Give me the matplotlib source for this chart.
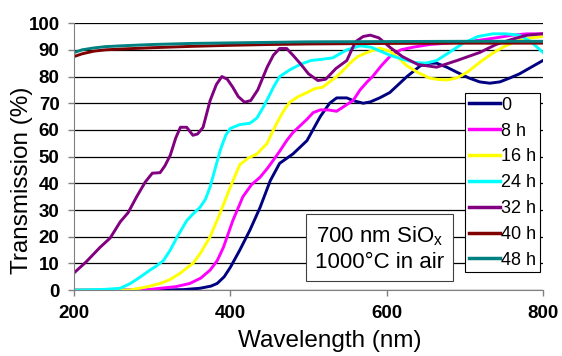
import matplotlib
matplotlib.use('Agg')
import matplotlib.pyplot as plt

plt.rcParams['font.family'] = ['Liberation Sans', 'DejaVu Sans']

# Transmission spectra of 700 nm SiOx, annealed at 1000C in air
wl_0h = [200, 300, 340, 361, 375, 383, 392, 400, 412, 425, 438, 451, 463, 480, 498,
         515, 527, 536, 549, 557, 570, 579, 591, 604, 615, 626, 643, 655, 664, 677,
         690, 705, 719, 732, 745, 758, 770, 785, 800]
tr_0h = [0, 0, 0.2, 0.7, 1.5, 2.5, 5, 8.6, 15, 22.5, 31, 41, 47.5, 51, 56,
         65, 70, 72, 72, 71, 70, 70.5, 72, 74, 77, 80, 84, 85, 85, 83.5,
         81.6, 79.5, 78, 77.5, 78, 79.5, 81, 83.5, 86]

wl_8h = [200, 290, 310, 330, 348, 362, 374, 383, 391, 403, 416, 427, 438, 447, 455,
         463, 472, 480, 489, 498, 506, 515, 525, 536, 549, 557, 566, 575, 582, 593,
         604, 618, 634, 655, 677, 700, 719, 740, 761, 780, 800]
tr_8h = [0, 0, 0.7, 1.3, 2.5, 4.5, 7.5, 11, 16, 26, 35, 39.5, 42.3, 45.5, 48.7,
         52, 56, 59, 61.5, 64, 66.5, 67.5, 67.5, 67, 69.5, 71, 75, 78, 80, 84,
         87.5, 90, 91, 92, 92.5, 93, 93.6, 94.5, 95.5, 96, 96]

wl_16h = [200, 270, 284, 297, 310, 323, 336, 345, 352, 362, 374, 387, 400, 412, 423,
          434, 447, 455, 463, 470, 476, 487, 498, 508, 518, 527, 536, 545, 553, 563,
          575, 591, 604, 615, 626, 640, 655, 666, 677, 690, 703, 720, 736, 752, 770,
          785, 800]
tr_16h = [0, 0, 0.7, 1.5, 2.5, 4, 6.4, 8.5, 10, 14, 20, 29, 38.7, 47, 49.5,
          51, 55, 60, 64.5, 68, 70.4, 72.5, 74, 75.5, 76, 78, 80, 82.5, 85, 87.5,
          89, 90.6, 89.5, 87, 84, 81.5, 79.4, 78.9, 78.7, 79.5, 81.6, 85.5, 88.8, 91.5, 93.6,
          94.5, 95]

wl_24h = [200, 240, 259, 272, 285, 297, 305, 314, 323, 332, 344, 352, 361, 368, 374,
          380, 387, 394, 400, 412, 425, 434, 442, 450, 455, 463, 476, 489, 503, 518,
          531, 540, 549, 566, 580, 592, 604, 620, 635, 650, 664, 680, 698, 717, 736,
          752, 770, 785, 800]
tr_24h = [0, 0.3, 0.7, 2.5, 5, 7.5, 9, 11, 15, 20, 26, 28.5, 31, 34, 38.7,
          45, 52.4, 58, 60.6, 62, 62.5, 64.5, 68.5, 73, 76, 80, 82.5, 84.5, 86, 86.5,
          87, 88.5, 90, 91.5, 91, 89.5, 88, 86.5, 85.3, 85, 86, 89, 92.5, 95, 96,
          96, 95.5, 93, 89]

wl_32h = [200, 215, 233, 246, 259, 269, 280, 291, 300, 310, 316, 323, 330, 336, 344,
          352, 358, 365, 374, 382, 389, 396, 403, 410, 418, 426, 435, 447, 455, 463,
          472, 480, 489, 500, 512, 522, 535, 549, 560, 570, 579, 590, 604, 620, 640,
          664, 690, 719, 740, 761, 780, 800]
tr_32h = [6.5, 10.5, 16, 19.5, 25.6, 29, 35, 40.5, 43.8, 44, 46.5, 50.5, 57, 61, 61,
          58, 58.5, 61, 71, 77, 80, 79, 76, 72.5, 70.4, 71, 75, 83.5, 88, 90.5,
          90.5, 88, 85, 81, 78.5, 79, 83, 86, 93, 95, 95.5, 94.5, 91, 87.5, 84.5,
          83.5, 86, 89, 92, 94, 95.5, 96]

wl_40h = [200, 210, 225, 240, 260, 300, 350, 400, 450, 500, 600, 700, 800]
tr_40h = [87.5, 88.5, 89.5, 90, 90.3, 90.8, 91.3, 91.7, 92, 92.2, 92.4, 92.5, 92.5]

wl_48h = [200, 210, 225, 240, 260, 300, 350, 400, 450, 500, 600, 700, 800]
tr_48h = [89, 90, 90.7, 91.2, 91.5, 92, 92.4, 92.6, 92.8, 93, 93.1, 93.2, 93.2]

labels = ['0', '8 h', '16 h', '24 h', '32 h', '40 h', '48 h']
colors = ['#000080', '#ff00ff', '#ffff00', '#00ffff', '#800080', '#800000', '#008080']
series = [(wl_0h, tr_0h), (wl_8h, tr_8h), (wl_16h, tr_16h), (wl_24h, tr_24h),
          (wl_32h, tr_32h), (wl_40h, tr_40h), (wl_48h, tr_48h)]

fig = plt.figure(figsize=(5.62, 3.56), dpi=100)
ax = fig.add_axes([0.132, 0.185, 0.834, 0.75])

for (x, y), lab, c in zip(series, labels, colors):
    ax.plot(x, y, color=c, lw=2.1, label=lab)

ax.set_xlim(200, 800)
ax.set_ylim(0, 100)
ax.set_xticks([200, 400, 600, 800])
ax.set_yticks(range(0, 101, 10))
ax.yaxis.grid(True, color='black', lw=0.9)
ax.set_axisbelow(True)
for side in ['top', 'right']:
    ax.spines[side].set_visible(False)
for side in ['left', 'bottom']:
    ax.spines[side].set_color('#808080')
ax.tick_params(axis='y', direction='out', color='#808080', length=4.5, width=1, pad=6)
ax.tick_params(axis='x', direction='out', color='#808080', length=4, width=1, pad=7)
for t in ax.get_xticklabels() + ax.get_yticklabels():
    t.set_fontsize(13.5)
    t.set_fontweight('bold')

ax.set_xlabel('Wavelength (nm)', fontsize=17.5)
ax.set_ylabel('Transmission (%)', fontsize=17.5)
ax.xaxis.set_label_coords(0.545, -0.15)
ax.yaxis.set_label_coords(-0.088, 0.41)

leg = ax.legend(loc='upper left', bbox_to_anchor=(0.834, 0.738), fontsize=13,
                handlelength=1.75, handletextpad=0.05, labelspacing=0.49,
                borderpad=0.2, borderaxespad=0, fancybox=False, framealpha=1)
leg.get_frame().set_edgecolor('black')
leg.get_frame().set_linewidth(0.8)
for h in leg.get_lines():
    h.set_linewidth(2.5)

ax.text(0.651, 0.157, '700 nm SiO$_\\mathregular{x}$\n1000°C in air', transform=ax.transAxes,
        ha='center', va='center', fontsize=16, linespacing=1.25,
        bbox=dict(boxstyle='square,pad=0.4', fc='white', ec='#404040', lw=0.8))

fig.savefig('out.png', dpi=100)
